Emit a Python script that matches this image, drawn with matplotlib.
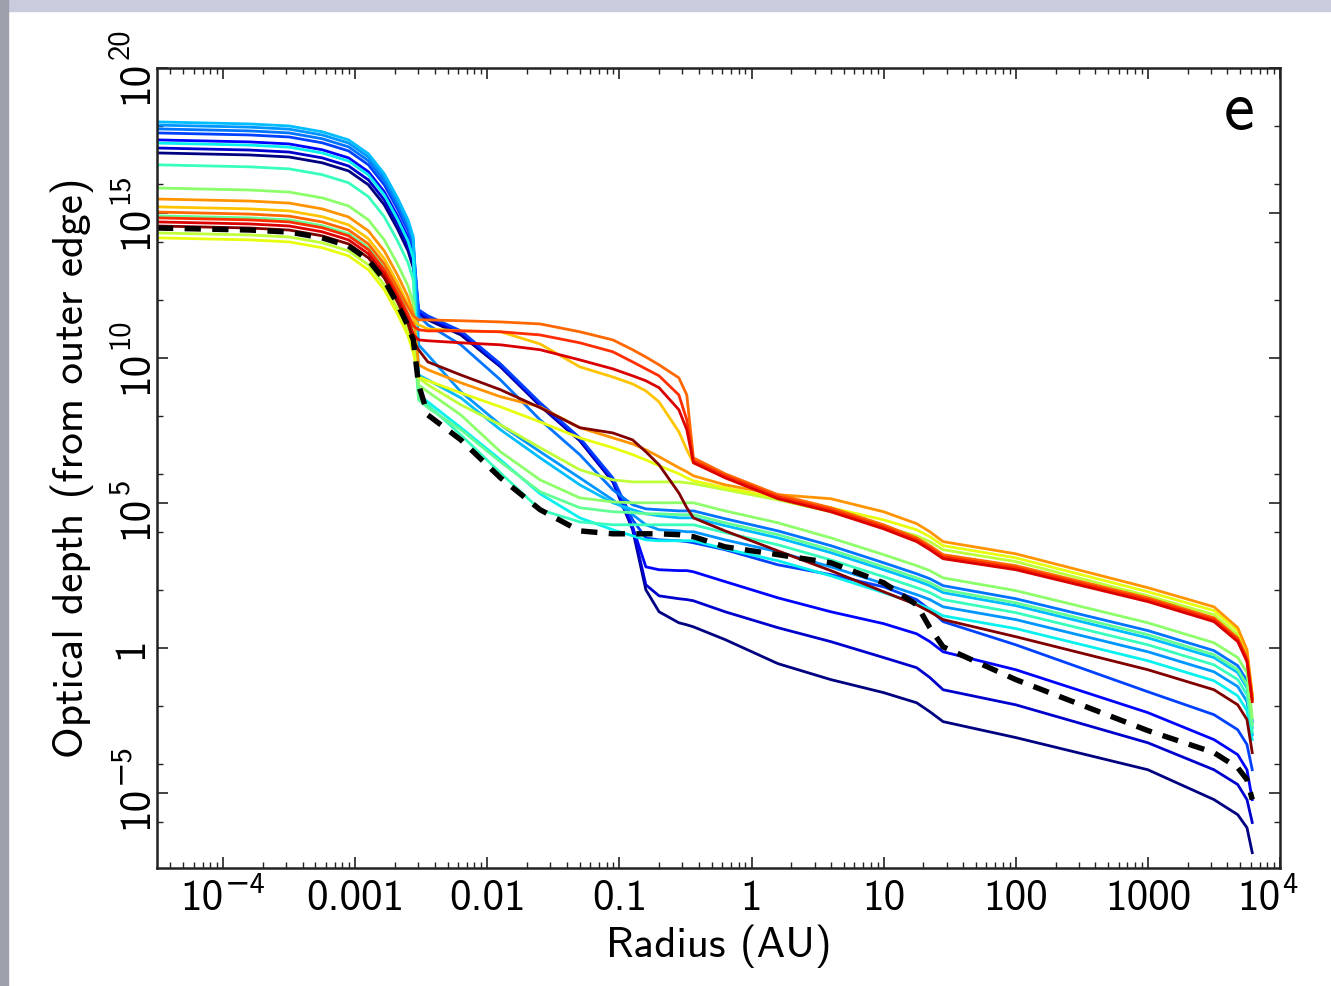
import numpy as np
import matplotlib
matplotlib.use("Agg")
import matplotlib.pyplot as plt
from matplotlib.patches import Rectangle
from matplotlib.ticker import FixedLocator, FixedFormatter, NullFormatter, LogLocator

plt.rcParams['axes.unicode_minus'] = False

# ---------------- data (log10 radius in AU, log10 optical depth) ----------------
log_r = [-4.5, -3.8, -3.5, -3.25, -3.05, -2.9, -2.78, -2.68, -2.6, -2.56,
         -2.52, -2.45, -2.2, -1.9, -1.6, -1.3, -1.05, -0.9, -0.8, -0.7, -0.55, -0.49, -0.44,
         -0.2, 0.2, 0.6, 1.0, 1.25, 1.35, 1.45, 2.0, 3.0, 3.5, 3.68, 3.75, 3.79]

tau_navy = [17.07, 17.00, 16.93, 16.73, 16.45, 15.97, 15.28, 14.45, 13.69, 13.10,
            11.48, 11.31, 10.79, 9.69, 8.34, 7.14, 5.72, 4.07, 2.00, 1.24, 0.86, 0.79, 0.72,
            0.28, -0.55, -1.10, -1.55, -1.90, -2.21, -2.55, -3.10, -4.21, -5.24, -5.76, -6.21, -7.07]
tau_blue1 = [17.24, 17.17, 17.10, 16.90, 16.62, 16.14, 15.45, 14.62, 13.86, 13.27,
             11.55, 11.38, 10.86, 9.72, 8.38, 7.17, 5.76, 4.14, 2.17, 1.79, 1.69, 1.66, 1.62,
             1.24, 0.69, 0.21, -0.34, -0.69, -1.03, -1.45, -1.97, -3.28, -4.21, -4.72, -5.24, -6.03]
tau_blue2 = [17.52, 17.45, 17.38, 17.18, 16.90, 16.42, 15.73, 14.90, 14.14, 13.55,
             11.59, 11.41, 10.90, 9.76, 8.41, 7.21, 5.79, 4.17, 2.79, 2.69, 2.66, 2.66, 2.62,
             2.28, 1.72, 1.24, 0.83, 0.48, 0.21, -0.14, -0.76, -2.24, -3.17, -3.69, -4.21, -5.24]
tau_blue3 = [17.76, 17.69, 17.62, 17.42, 17.14, 16.66, 15.97, 15.14, 14.38, 13.79,
             11.66, 11.45, 10.93, 9.79, 8.45, 7.24, 5.86, 4.41, 3.79, 3.72, 3.69, 3.66, 3.62,
             3.38, 2.86, 2.52, 2.10, 1.66, 1.31, 0.90, 0.10, -1.52, -2.31, -2.83, -3.34, -4.21]
tau_blue4 = [17.90, 17.83, 17.76, 17.56, 17.28, 16.80, 16.11, 15.28, 14.52, 13.93,
             11.45, 11.14, 10.45, 9.24, 7.86, 6.66, 5.45, 4.93, 4.79, 4.76, 4.72, 4.72, 4.72,
             4.45, 4.03, 3.52, 2.93, 2.55, 2.38, 2.14, 1.69, 0.59, -0.10, -0.62, -1.14, -2.55]
tau_azure = [18.03, 17.96, 17.89, 17.69, 17.41, 16.93, 16.24, 15.41, 14.65, 14.06,
             10.45, 10.10, 8.83, 7.69, 6.76, 5.86, 5.10, 4.59, 4.24, 4.07, 4.03, 4.00, 4.00,
             3.72, 3.31, 2.79, 2.21, 1.83, 1.66, 1.41, 0.97, -0.14, -0.83, -1.34, -1.86, -3.00]
tau_sky = [18.14, 18.07, 18.00, 17.80, 17.52, 17.04, 16.35, 15.52, 14.76, 14.17,
           9.41, 9.24, 8.62, 7.52, 6.55, 5.62, 5.00, 4.76, 4.62, 4.55, 4.48, 4.48, 4.48,
           4.21, 3.79, 3.28, 2.69, 2.31, 2.14, 1.90, 1.45, 0.34, -0.34, -0.86, -1.38, -2.76]
tau_cyan = [17.41, 17.34, 17.27, 17.07, 16.79, 16.31, 15.62, 14.79, 14.03, 13.44,
            8.72, 8.48, 7.59, 6.48, 5.31, 4.48, 4.07, 3.86, 3.72, 3.69, 3.69, 3.69, 3.69,
            3.41, 3.00, 2.48, 1.90, 1.52, 1.34, 1.10, 0.66, -0.45, -1.14, -1.66, -2.17, -3.17]
tau_aqua = [16.66, 16.59, 16.52, 16.32, 16.04, 15.56, 14.87, 14.04, 13.28, 12.69,
            8.62, 8.38, 7.34, 6.03, 4.76, 4.34, 4.24, 4.24, 4.24, 4.24, 4.24, 4.24, 4.24,
            3.97, 3.55, 3.03, 2.45, 2.07, 1.90, 1.66, 1.21, 0.10, -0.59, -1.10, -1.62, -2.90]
tau_teal = [14.90, 14.83, 14.76, 14.56, 14.28, 13.80, 13.11, 12.28, 11.52, 10.93,
            8.55, 8.28, 7.52, 6.41, 5.38, 4.83, 4.69, 4.66, 4.62, 4.62, 4.59, 4.59, 4.59,
            4.31, 3.90, 3.38, 2.79, 2.41, 2.24, 2.00, 1.55, 0.45, -0.24, -0.76, -1.28, -2.66]
tau_green = [15.86, 15.79, 15.72, 15.52, 15.24, 14.76, 14.07, 13.24, 12.48, 11.89,
             9.07, 8.83, 8.03, 6.76, 5.79, 5.17, 5.03, 5.00, 5.00, 5.00, 5.00, 5.00, 5.00,
             4.72, 4.31, 3.79, 3.21, 2.83, 2.66, 2.41, 1.97, 0.86, 0.17, -0.34, -0.86, -2.41]
tau_lime = [14.31, 14.24, 14.17, 13.97, 13.69, 13.21, 12.52, 11.69, 10.93, 10.34,
            9.31, 9.07, 8.38, 7.69, 6.90, 6.14, 5.79, 5.72, 5.72, 5.72, 5.72, 5.69, 5.66,
            5.45, 5.10, 4.69, 4.17, 3.86, 3.66, 3.38, 2.97, 1.79, 1.14, 0.45, -0.24, -1.72]
tau_yellow = [14.14, 14.07, 14.00, 13.80, 13.52, 13.04, 12.35, 11.52, 10.76, 10.17,
              9.34, 9.21, 8.79, 8.31, 7.79, 7.24, 6.90, 6.66, 6.48, 6.28, 6.00, 5.86, 5.76,
              5.52, 5.17, 4.83, 4.41, 4.07, 3.83, 3.52, 3.10, 1.93, 1.28, 0.59, -0.14, -1.66]
tau_amber = [15.48, 15.41, 15.34, 15.14, 14.86, 14.38, 13.69, 12.86, 12.10, 11.51,
             9.76, 9.59, 9.14, 8.66, 8.31, 7.59, 7.24, 7.03, 6.83, 6.59, 6.21, 6.07, 5.93,
             5.62, 5.28, 5.14, 4.69, 4.28, 4.00, 3.66, 3.24, 2.07, 1.41, 0.69, -0.07, -1.62]
tau_orange = [15.21, 15.14, 15.07, 14.87, 14.59, 14.11, 13.42, 12.59, 11.83, 11.35,
              11.14, 11.00, 10.93, 10.90, 10.48, 9.69, 9.34, 9.10, 8.86, 8.48, 7.45, 6.83, 6.38,
              5.90, 5.21, 4.76, 4.17, 3.72, 3.45, 3.14, 2.76, 1.66, 0.97, 0.28, -0.41, -1.79]
tau_redorange = [15.03, 14.96, 14.89, 14.69, 14.41, 13.93, 13.24, 12.41, 11.75, 11.45,
                 11.31, 11.31, 11.28, 11.24, 11.17, 10.90, 10.62, 10.28, 10.03, 9.76, 9.31, 8.72, 6.55,
                 6.00, 5.28, 4.83, 4.24, 3.79, 3.52, 3.21, 2.83, 1.72, 1.03, 0.34, -0.34, -1.72]
tau_red = [14.83, 14.76, 14.69, 14.49, 14.21, 13.73, 13.04, 12.21, 11.50, 11.10,
           10.97, 10.93, 10.93, 10.90, 10.79, 10.52, 10.21, 9.86, 9.62, 9.38, 8.72, 7.86, 6.45,
           5.93, 5.21, 4.76, 4.17, 3.72, 3.45, 3.14, 2.76, 1.66, 0.97, 0.28, -0.41, -1.79]
tau_darkred = [14.69, 14.62, 14.55, 14.35, 14.07, 13.59, 12.90, 12.07, 11.31, 10.80,
               10.62, 10.59, 10.52, 10.45, 10.28, 9.93, 9.62, 9.38, 9.21, 8.97, 8.21, 7.52, 6.38,
               5.86, 5.14, 4.69, 4.10, 3.66, 3.38, 3.07, 2.69, 1.59, 0.90, 0.21, -0.48, -1.86]
tau_maroon = [14.55, 14.48, 14.41, 14.21, 13.93, 13.45, 12.76, 11.93, 11.17, 10.58,
              10.28, 9.86, 9.41, 8.90, 8.28, 7.59, 7.41, 7.17, 6.76, 6.31, 5.34, 4.83, 4.48,
              4.03, 3.34, 2.66, 1.93, 1.48, 1.24, 0.97, 0.38, -0.76, -1.45, -1.97, -2.48, -3.62]
tau_dashed = [14.48, 14.41, 14.34, 14.14, 13.86, 13.38, 12.69, 11.86, 11.10, 10.62,
              9.07, 8.03, 7.17, 5.86, 4.76, 4.03, 3.93, 3.93, 3.93, 3.93, 3.90, 3.86, 3.83,
              3.48, 3.21, 2.93, 2.24, 1.48, 0.69, 0.03, -1.10, -2.86, -3.62, -4.14, -4.55, -5.24]

series = [tau_navy, tau_blue1, tau_blue2, tau_blue3, tau_blue4, tau_azure, tau_sky, tau_cyan,
          tau_aqua, tau_teal, tau_green, tau_lime, tau_yellow, tau_amber, tau_orange,
          tau_redorange, tau_red, tau_darkred, tau_maroon]
jet_pos = [0.0, 0.07, 0.13, 0.19, 0.24, 0.27, 0.31, 0.36, 0.42, 0.47, 0.52, 0.58, 0.63,
           0.75, 0.70, 0.80, 0.86, 0.92, 1.0]

# tick values; plain labels, and powers of ten written as base "10" + exponent
x_ticks = [1e-4, 1e-3, 1e-2, 1e-1, 1, 10, 100, 1000, 1e4]
x_labels = ['', '0.001', '0.01', '0.1', '1', '10', '100', '1000', '']
x_pow = {1e-4: '\u22124', 1e4: '4'}
y_ticks = [1e20, 1e15, 1e10, 1e5, 1, 1e-5]
y_labels = ['', '', '', '', '1', '']
y_pow = {1e20: '20', 1e15: '15', 1e10: '10', 1e5: '5', 1e-5: '\u22125'}
y_minor = [1e18, 1e16, 1e14, 1e12, 1e8, 1e6, 1e4, 1e2, 1e-2, 1e-4, 1e-6]

# ---------------- figure ----------------
W, H = 1331, 986
fig = plt.figure(figsize=(W / 100, H / 100), dpi=100)
fig.patch.set_facecolor('white')
fig.add_artist(Rectangle((0, 1 - 11 / H), 1, 11 / H, transform=fig.transFigure,
                         color='#c9ccdd', zorder=0))
fig.add_artist(Rectangle((0, 0), 8 / W, 1, transform=fig.transFigure,
                         color='#9d9fab', zorder=0))

ax = fig.add_axes([157 / W, 1 - 868 / H, (1280 - 157) / W, (868 - 68) / H])
cmap = plt.get_cmap('jet')
r = 10 ** np.array(log_r)
for vals, c in zip(series, jet_pos):
    ax.plot(r, 10 ** np.array(vals), color=cmap(c), lw=2.0, solid_joinstyle='round')
ax.plot(r, 10 ** np.array(tau_dashed), color='black', lw=3.9, dashes=(3.0, 2.1))

ax.set_xscale('log')
ax.set_yscale('log')
ax.set_xlim(10 ** -4.5, 1e4)
ax.set_ylim(10 ** -7.6, 1e20)

fs = 31
fs_exp = 22
FAM = ['cmss10', 'DejaVu Sans']
ax.xaxis.set_major_locator(FixedLocator(x_ticks))
ax.xaxis.set_major_formatter(FixedFormatter(x_labels))
ax.xaxis.set_minor_locator(LogLocator(base=10, subs=np.arange(2, 10), numticks=30))
ax.xaxis.set_minor_formatter(NullFormatter())
ax.yaxis.set_major_locator(FixedLocator(y_ticks))
ax.yaxis.set_major_formatter(FixedFormatter(y_labels))
ax.yaxis.set_minor_locator(FixedLocator(y_minor))
ax.yaxis.set_minor_formatter(NullFormatter())

ax.tick_params(which='both', direction='in', top=True, right=True, color='#222222')
ax.tick_params(which='major', length=8, width=1.2)
ax.tick_params(which='minor', length=4.5, width=1.0)
ax.tick_params(axis='x', which='major', pad=9, labelsize=fs)
ax.tick_params(axis='y', which='major', pad=5, labelsize=fs)
for lab in ax.get_xticklabels() + ax.get_yticklabels():
    lab.set_family('cmss10')
for lab in ax.get_yticklabels():
    lab.set_rotation(90)
    lab.set_va('center')

# power-of-ten tick labels on x
for xv, ex in x_pow.items():
    ax.annotate('10', xy=(xv, 0), xycoords=('data', 'axes fraction'),
                xytext=(0.5, -9), textcoords='offset points', ha='right', va='top',
                fontsize=fs, family=FAM, annotation_clip=False)
    ax.annotate(ex, xy=(xv, 0), xycoords=('data', 'axes fraction'),
                xytext=(1.5, -3), textcoords='offset points', ha='left', va='top',
                fontsize=fs_exp, family=FAM, annotation_clip=False)
# power-of-ten tick labels on y (rotated)
for yv, ex in y_pow.items():
    ax.annotate('10', xy=(0, yv), xycoords=('axes fraction', 'data'),
                xytext=(-1.5, 5), textcoords='offset points', ha='right', va='top',
                rotation=90, fontsize=fs, family=FAM, annotation_clip=False)
    ax.annotate(ex, xy=(0, yv), xycoords=('axes fraction', 'data'),
                xytext=(-16.5, 6.5), textcoords='offset points', ha='right', va='bottom',
                rotation=90, fontsize=fs_exp, family=FAM, annotation_clip=False)

for sp in ax.spines.values():
    sp.set_linewidth(1.8)
    sp.set_color('#222222')

ax.set_xlabel('Radius (AU)', fontsize=fs, family='cmss10', labelpad=4)
ax.set_ylabel('Optical depth (from outer edge)', fontsize=fs, family='cmss10')
ax.yaxis.set_label_coords(-0.056, 0.5)
ax.text(0.964, 0.945, 'e', transform=ax.transAxes, fontsize=50, family='cmss10',
        ha='center', va='center')

fig.savefig('out.png', dpi=100, facecolor=fig.get_facecolor())
